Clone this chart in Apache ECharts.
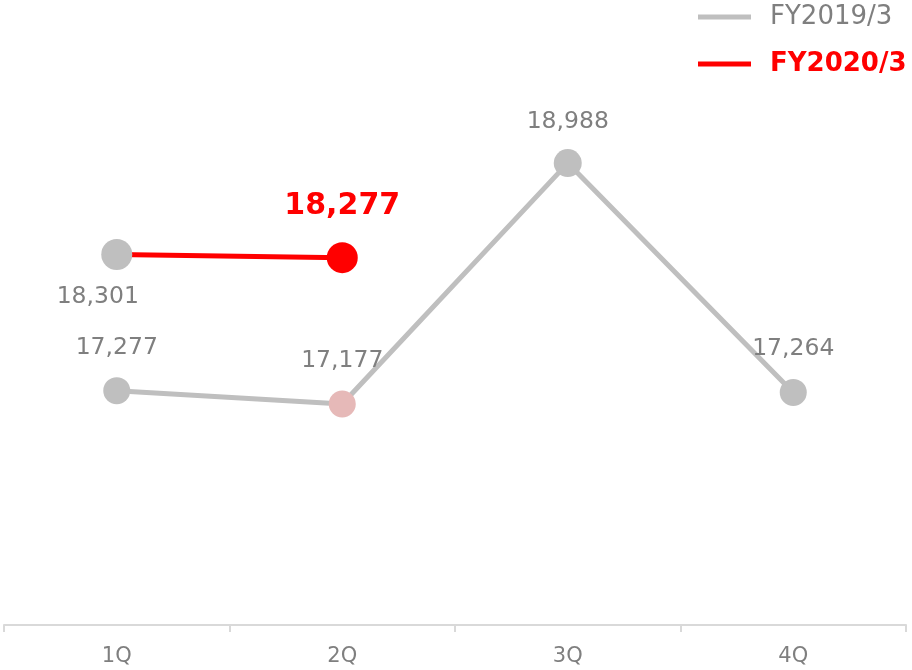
<!DOCTYPE html>
<html>
<head>
<meta charset="utf-8">
<script src="https://cdn.jsdelivr.net/npm/echarts@6/dist/echarts.min.js"></script>
<style>html,body{margin:0;padding:0;background:#fff;}#c{width:912px;height:670px;}</style>
</head>
<body>
<div id="c"></div>
<script>
var categories = ['1Q', '2Q', '3Q', '4Q'];
var fy2019 = [17277, 17177, 18988, 17264];
var fy2020 = [18301, 18277, null, null];
var seriesNames = ['FY2019/3', 'FY2020/3'];

var GREY = '#bfbfbf', RED = '#ff0000', TXT = '#7f7f7f', PINK = '#e6b9b8';
var font = '"DejaVu Sans", Verdana, sans-serif';
function fmt(v) { return v.toLocaleString('en-US'); }

var chart = echarts.init(document.getElementById('c'));
chart.setOption({
  animation: false,
  grid: { left: 4, right: 6, top: 95, bottom: 43 },
  legend: {
    orient: 'vertical', left: 698, top: 4, itemGap: 21, padding: 0,
    itemWidth: 53, itemHeight: 5, icon: 'rect',
    textStyle: { fontFamily: font, fontSize: 26, lineHeight: 26, padding: [0, 0, 0, 14] },
    data: [
      { name: seriesNames[0], textStyle: { color: TXT } },
      { name: seriesNames[1], textStyle: { color: RED, fontWeight: 'bold' } }
    ]
  },
  xAxis: {
    type: 'category', data: categories, offset: -2,
    axisLine: { lineStyle: { color: '#d9d9d9', width: 2 } },
    axisTick: { show: true, length: 7, lineStyle: { color: '#d9d9d9', width: 2 } },
    axisLabel: { color: TXT, fontFamily: font, fontSize: 21, margin: 21 }
  },
  yAxis: {
    type: 'value', min: 15500, max: 19500, show: false, splitLine: { show: false }
  },
  series: [
    {
      name: seriesNames[0], type: 'line', z: 2,
      symbol: 'circle', symbolSize: 27,
      lineStyle: { color: GREY, width: 5 },
      itemStyle: { color: GREY },
      label: { show: true, position: 'top', distance: 17, color: TXT, fontFamily: font, fontSize: 23.5,
        formatter: function (p) { return fmt(p.value); } },
      data: fy2019.map(function (v, i) {
        var d = { value: v };
        if (i === 1) { d.itemStyle = { color: PINK }; d.label = { distance: 18 }; }
        if (i === 2) { d.symbolSize = 28; d.label = { distance: 15 }; }
        if (i === 3) { d.label = { distance: 18 }; }
        return d;
      })
    },
    {
      name: seriesNames[1], type: 'line', z: 3,
      symbol: 'circle', symbolSize: 31,
      lineStyle: { color: RED, width: 5 },
      itemStyle: { color: RED },
      label: { show: true, fontFamily: font, formatter: function (p) { return fmt(p.value); } },
      data: fy2020.map(function (v, i) {
        if (v === null) return null;
        if (i === 0) return { value: v, itemStyle: { color: GREY },
          label: { position: 'bottom', distance: 15, offset: [-19, 0], color: TXT, fontSize: 23.5 } };
        return { value: v,
          label: { position: 'top', distance: 21, color: RED, fontSize: 30, fontWeight: 'bold' } };
      })
    }
  ]
});
</script>
</body>
</html>
